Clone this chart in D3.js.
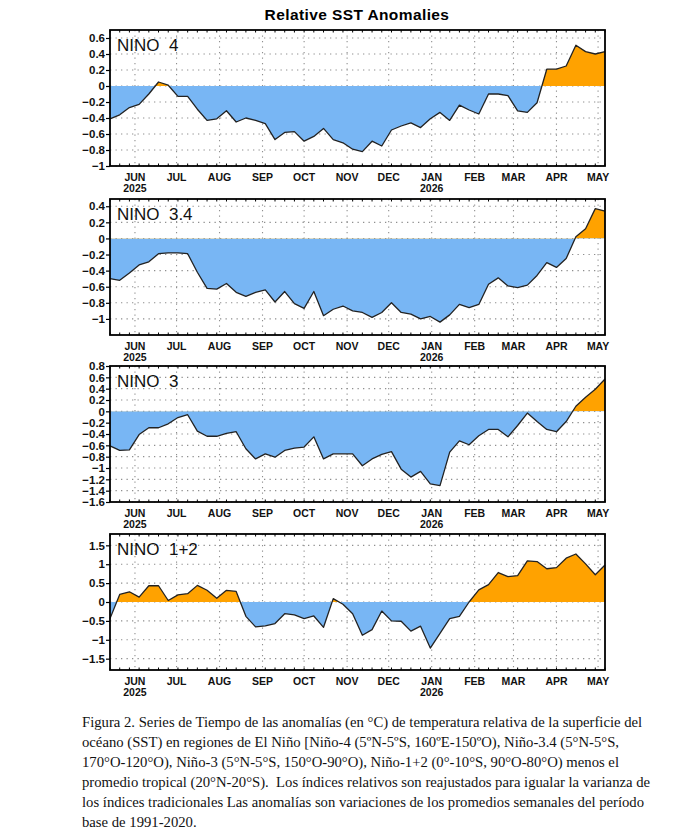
<!DOCTYPE html>
<html>
<head>
<meta charset="utf-8">
<script src="https://cdn.jsdelivr.net/npm/d3@7"></script>
<style>
  body { margin: 0; background: #fff; }
  .caption { font-family: "Liberation Serif", "Times New Roman", serif; font-size: 14.7px; fill: #111; white-space: pre; }
</style>
</head>
<body>
<svg id="chart" width="690" height="834"></svg>
<script>
// weekly values, first week centred on 14 May 2025
const firstWeek = new Date(Date.UTC(2025, 4, 14));
const weekCount = 52;

const nino4 = [-0.41, -0.36, -0.27, -0.23, -0.10, 0.05, 0.01, -0.13, -0.13, -0.29,
  -0.43, -0.41, -0.31, -0.45, -0.40, -0.43, -0.47, -0.67, -0.58, -0.57,
  -0.69, -0.63, -0.53, -0.67, -0.71, -0.79, -0.82, -0.69, -0.75, -0.55,
  -0.50, -0.46, -0.52, -0.41, -0.33, -0.43, -0.24, -0.30, -0.35, -0.10,
  -0.10, -0.12, -0.31, -0.33, -0.21, 0.21, 0.21, 0.25, 0.51, 0.43,
  0.40, 0.43];

const nino34 = [-0.50, -0.52, -0.43, -0.33, -0.29, -0.19, -0.18, -0.18, -0.19, -0.42,
  -0.62, -0.63, -0.56, -0.67, -0.72, -0.67, -0.64, -0.79, -0.66, -0.81,
  -0.87, -0.66, -0.96, -0.88, -0.84, -0.90, -0.92, -0.98, -0.92, -0.80,
  -0.92, -0.94, -1.00, -0.97, -1.04, -0.95, -0.82, -0.86, -0.82, -0.57,
  -0.49, -0.59, -0.61, -0.58, -0.46, -0.30, -0.36, -0.25, 0.02, 0.12,
  0.37, 0.34];

const nino3 = [-0.61, -0.69, -0.68, -0.41, -0.29, -0.29, -0.22, -0.11, -0.06, -0.35,
  -0.44, -0.44, -0.39, -0.36, -0.66, -0.84, -0.75, -0.81, -0.69, -0.65,
  -0.63, -0.45, -0.84, -0.75, -0.75, -0.75, -0.96, -0.84, -0.76, -0.71,
  -1.02, -1.16, -1.06, -1.28, -1.31, -0.72, -0.52, -0.59, -0.43, -0.32,
  -0.32, -0.45, -0.25, -0.03, -0.18, -0.32, -0.36, -0.18, 0.09, 0.25,
  0.39, 0.57];

const nino12 = [-0.44, 0.20, 0.27, 0.13, 0.43, 0.43, 0.04, 0.19, 0.22, 0.44,
  0.31, 0.10, 0.31, 0.28, -0.38, -0.66, -0.63, -0.57, -0.31, -0.34,
  -0.44, -0.37, -0.67, 0.09, -0.06, -0.31, -0.88, -0.73, -0.24, -0.50,
  -0.51, -0.77, -0.64, -1.22, -0.83, -0.44, -0.38, 0.00, 0.32, 0.46,
  0.78, 0.67, 0.70, 1.09, 1.07, 0.88, 0.91, 1.16, 1.27, 1.01,
  0.72, 0.98];

const panelNames = ["NINO  4", "NINO  3.4", "NINO  3", "NINO  1+2"];
const panelSeries = [nino4, nino34, nino3, nino12];
const panelDomains = [[-1, 0.7], [-1.2, 0.49], [-1.6, 0.8], [-1.8, 1.8]];
const panelTicks = [
  [0.6, 0.4, 0.2, 0, -0.2, -0.4, -0.6, -0.8, -1],
  [0.4, 0.2, 0, -0.2, -0.4, -0.6, -0.8, -1],
  [0.8, 0.6, 0.4, 0.2, 0, -0.2, -0.4, -0.6, -0.8, -1, -1.2, -1.4, -1.6],
  [1.5, 1, 0.5, 0, -0.5, -1, -1.5]
];

const titleText = "Relative SST Anomalies";
const captionLines = [
  "Figura 2. Series de Tiempo de las anomalías (en °C) de temperatura relativa de la superficie del",
  "océano (SST) en regiones de El Niño [Niño-4 (5ºN-5ºS, 160ºE-150ºO), Niño-3.4 (5°N-5°S,",
  "170°O-120°O), Niño-3 (5°N-5°S, 150°O-90°O), Niño-1+2 (0°-10°S, 90°O-80°O) menos el",
  "promedio tropical (20°N-20°S).  Los índices relativos son reajustados para igualar la varianza de",
  "los índices tradicionales Las anomalías son variaciones de los promedios semanales del período",
  "base de 1991-2020."
];

const blue = "#78b6f4";
const orange = "#ffa200";

const weeks = d3.range(weekCount).map(i => d3.utcDay.offset(firstWeek, 7 * i));

const svg = d3.select("#chart");
const left = 110, width = 495, height = 136;
const panelTops = [30, 199, 366, 534];

svg.append("text")
  .attr("x", 357)
  .attr("y", 20)
  .attr("text-anchor", "middle")
  .style("font-family", "Liberation Sans, Arial, sans-serif")
  .style("font-weight", "bold")
  .style("font-size", "15.5px")
  .style("letter-spacing", "0.4px")
  .text(titleText);

const x = d3.scaleUtc()
  .domain([weeks[0], weeks[weeks.length - 1]])
  .range([0, width]);

const months = d3.utcMonth.range(d3.utcMonth.ceil(weeks[0]), d3.utcDay.offset(weeks[weeks.length - 1], 1));
const minusFmt = d3.format("~g");

panelSeries.forEach((values, p) => {
  const g = svg.append("g")
    .attr("transform", `translate(${left},${panelTops[p]})`);

  const y = d3.scaleLinear()
    .domain(panelDomains[p])
    .range([height, 0]);

  const data = values.map((v, i) => ({ date: weeks[i], value: v }));

  // dotted grid
  g.selectAll(".hgrid")
    .data(panelTicks[p])
    .enter()
    .append("line")
    .attr("x1", 0).attr("x2", width)
    .attr("y1", d => y(d)).attr("y2", d => y(d))
    .attr("stroke", "#8f8f8f")
    .attr("stroke-width", 1.1)
    .attr("stroke-dasharray", "1.3,4.2");

  g.selectAll(".vgrid")
    .data(months)
    .enter()
    .append("line")
    .attr("x1", d => x(d)).attr("x2", d => x(d))
    .attr("y1", 0).attr("y2", height)
    .attr("stroke", "#8f8f8f")
    .attr("stroke-width", 1.1)
    .attr("stroke-dasharray", "1.3,4.2");

  // split fill at zero using two clips
  const clipAbove = `above-${p}`, clipBelow = `below-${p}`;
  const defs = g.append("defs");
  defs.append("clipPath").attr("id", clipAbove)
    .append("rect").attr("x", 0).attr("y", 0).attr("width", width).attr("height", y(0));
  defs.append("clipPath").attr("id", clipBelow)
    .append("rect").attr("x", 0).attr("y", y(0)).attr("width", width).attr("height", height - y(0));

  const area = d3.area()
    .x(d => x(d.date))
    .y0(y(0))
    .y1(d => y(d.value));

  g.append("path")
    .datum(data)
    .attr("d", area)
    .attr("fill", orange)
    .attr("clip-path", `url(#${clipAbove})`);

  g.append("path")
    .datum(data)
    .attr("d", area)
    .attr("fill", blue)
    .attr("clip-path", `url(#${clipBelow})`);

  g.append("path")
    .datum(data)
    .attr("d", d3.line().x(d => x(d.date)).y(d => y(d.value)))
    .attr("fill", "none")
    .attr("stroke", "#222")
    .attr("stroke-width", 1.3)
    .attr("stroke-linejoin", "round");

  // weekly minor ticks on top and bottom edges
  g.selectAll(".wtickb")
    .data(weeks)
    .enter()
    .append("line")
    .attr("x1", d => x(d)).attr("x2", d => x(d))
    .attr("y1", height).attr("y2", height - 2.5)
    .attr("stroke", "#000").attr("stroke-width", 1);

  g.selectAll(".wtickt")
    .data(weeks)
    .enter()
    .append("line")
    .attr("x1", d => x(d)).attr("x2", d => x(d))
    .attr("y1", 0).attr("y2", 2.5)
    .attr("stroke", "#000").attr("stroke-width", 1);

  g.append("rect")
    .attr("x", 0).attr("y", 0)
    .attr("width", width).attr("height", height)
    .attr("fill", "none")
    .attr("stroke", "#000")
    .attr("stroke-width", 1.8);

  // y axis
  const yAxis = g.append("g")
    .call(d3.axisLeft(y).tickValues(panelTicks[p]).tickSize(4).tickPadding(1).tickFormat(minusFmt));
  yAxis.select(".domain").remove();
  yAxis.selectAll("line").attr("stroke-width", 1.2);
  yAxis.selectAll("text")
    .style("font-family", "Liberation Sans, Arial, sans-serif")
    .style("font-weight", "bold")
    .style("font-size", "11.5px")
    .attr("fill", "#111");

  // month labels
  const xl = g.append("g").attr("transform", `translate(0,${height})`);
  months.forEach(m => {
    xl.append("text")
      .attr("x", x(m))
      .attr("y", 15)
      .attr("text-anchor", "middle")
      .style("font-family", "Liberation Sans, Arial, sans-serif")
      .style("font-weight", "bold")
      .style("font-size", "10.5px")
      .attr("fill", "#111")
      .text(d3.utcFormat("%b")(m).toUpperCase());
    if (m.getUTCMonth() === 5 || m.getUTCMonth() === 0) {
      xl.append("text")
        .attr("x", x(m))
        .attr("y", 26)
        .attr("text-anchor", "middle")
        .style("font-family", "Liberation Sans, Arial, sans-serif")
        .style("font-weight", "bold")
        .style("font-size", "10.5px")
        .attr("fill", "#111")
        .text(d3.utcFormat("%Y")(m));
    }
  });

  g.append("text")
    .attr("x", 7)
    .attr("y", 21)
    .style("font-family", "Liberation Sans, Arial, sans-serif")
    .style("font-size", "17px")
    .style("white-space", "pre")
    .attr("fill", "#111")
    .text(panelNames[p]);
});

svg.selectAll(".caption")
  .data(captionLines)
  .enter()
  .append("text")
  .attr("class", "caption")
  .attr("x", 82)
  .attr("y", (d, i) => 727 + i * 20)
  .text(d => d);
</script>
</body>
</html>
